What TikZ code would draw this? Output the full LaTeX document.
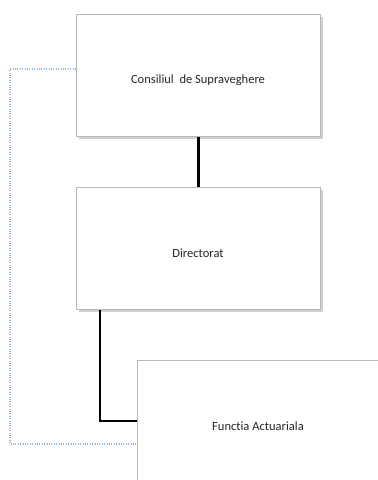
\documentclass[tikz,border=0pt]{standalone}
\usepackage{fontspec}
\setmainfont{Carlito}[RawFeature=-liga]
\usetikzlibrary{shadows}
\definecolor{boxborder}{RGB}{185,185,185}
\definecolor{dashblue}{RGB}{150,185,230}
\tikzset{
  orgbox/.style={draw=boxborder, line width=1pt, fill=white, rectangle, inner sep=0pt,
    drop shadow={shadow xshift=1.5pt, shadow yshift=-1.5pt, opacity=0.3, fill=black!60}},
  solidlink/.style={draw=black, line width=2pt},
  dashlink/.style={draw=dashblue, line width=0.8pt, densely dotted},
  lbl/.style={font=\fontsize{9.4}{11}\selectfont, text=black!85}
}
\begin{document}
\begin{tikzpicture}[x=0.75pt,y=-0.75pt]
\useasboundingbox (0,0) rectangle (378,480);
\clip (0,0) rectangle (378,480);
\fill[white] (0,0) rectangle (378,480);
\coordinate (d1) at (10,69);
\coordinate (d2) at (10,444);
\coordinate (s1) at (100,421);
% boxes
\node[orgbox, minimum width=183pt, minimum height=91.5pt, anchor=north west] (cs) at (76,14) {};
\node[orgbox, minimum width=183pt, minimum height=91.5pt, anchor=north west] (dir) at (76,187) {};
\node[orgbox, minimum width=210pt, minimum height=120pt, anchor=north west] (fa) at (137,360) {};
\node[lbl] (t1) at (198,80) {Consiliul\ \ de Supraveghere};
\node[lbl] (t2) at (198,253) {Directorat};
\node[lbl] (t3) at (258,426) {Functia Actuariala};
% links
\draw[solidlink] (cs.south) -- (dir.north);
\draw[solidlink] (dir.south west -| s1) -- (s1) -- (s1 -| fa.west);
\draw[dashlink] (cs.west |- d1) -- (d1) -- (d2) -- (d2 -| fa.west);
\end{tikzpicture}
\end{document}
